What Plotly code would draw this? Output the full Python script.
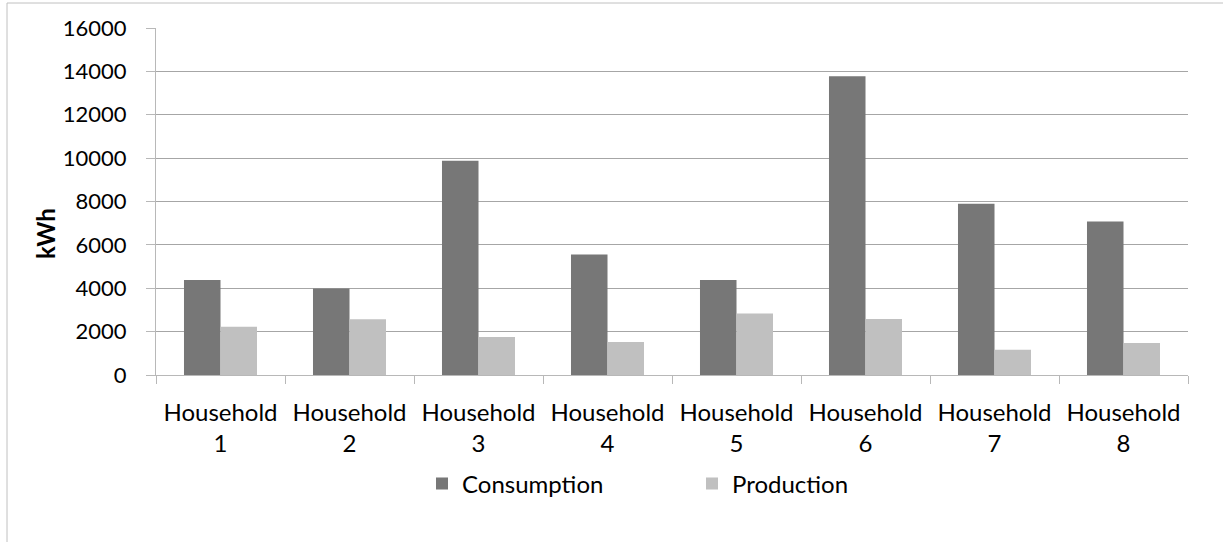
import plotly.graph_objects as go

categories = ["Household<br>1", "Household<br>2", "Household<br>3", "Household<br>4",
              "Household<br>5", "Household<br>6", "Household<br>7", "Household<br>8"]
consumption = [4380, 3990, 9880, 5560, 4380, 13770, 7900, 7080]
production = [2230, 2570, 1750, 1520, 2830, 2580, 1170, 1480]
y_ticks = [0, 2000, 4000, 6000, 8000, 10000, 12000, 14000, 16000]

W, H = 1223, 542
L, R, T, B = 156, 35, 28, 167
PW, PH = W - L - R, H - T - B

def px(x):
    return (x - L) / PW

def py(y):
    return (H - B - y) / PH

FONT = "Lato"
FS = 24

fig = go.Figure()
fig.add_trace(go.Bar(x=categories, y=consumption, name="Consumption",
                     marker=dict(color="#777777", line=dict(width=0))))
fig.add_trace(go.Bar(x=categories, y=production, name="Production",
                     marker=dict(color="#c0c0c0", line=dict(width=0))))

fig.update_layout(
    width=W, height=H,
    margin=dict(l=L, r=R, t=T, b=B, pad=0),
    paper_bgcolor="white", plot_bgcolor="white",
    font=dict(family=FONT, size=FS, color="black"),
    barmode="group", bargap=0.434, bargroupgap=0,
    showlegend=True,
    legend=dict(orientation="h", x=px(422), xanchor="left", y=py(484), yanchor="middle",
                entrywidth=225, entrywidthmode="pixels",
                font=dict(family=FONT, size=FS, color="black"),
                bgcolor="rgba(0,0,0,0)", borderwidth=0, traceorder="normal"),
    xaxis=dict(type="category", showgrid=False, showline=True, linecolor="#b8b8b8", linewidth=1,
               ticks="outside", tickson="boundaries", ticklen=8, tickcolor="#b8b8b8",
               ticklabelstandoff=16,
               tickfont=dict(family=FONT, size=FS, color="black"), fixedrange=True),
    yaxis=dict(range=[0, 16000], tickvals=y_ticks, ticktext=[str(v) for v in y_ticks],
               showgrid=True, gridcolor="#a6a6a6", gridwidth=1,
               showline=True, linecolor="#b8b8b8", linewidth=1,
               ticks="outside", ticklen=9, tickcolor="#b8b8b8", ticklabelstandoff=15,
               zeroline=False,
               tickfont=dict(family=FONT, size=22, color="black"), fixedrange=True),
    shapes=[dict(type="rect", xref="paper", yref="paper",
                 x0=px(7), x1=px(1240), y0=py(560), y1=py(3),
                 line=dict(color="#c0c0c0", width=1), fillcolor="rgba(0,0,0,0)", layer="below")],
    annotations=[dict(text="<b>kWh</b>", xref="paper", yref="paper", x=px(45), y=py(234),
                      xanchor="center", yanchor="middle", textangle=-90, showarrow=False,
                      font=dict(family=FONT, size=FS, color="black"))],
)

fig.write_html("out.html")
